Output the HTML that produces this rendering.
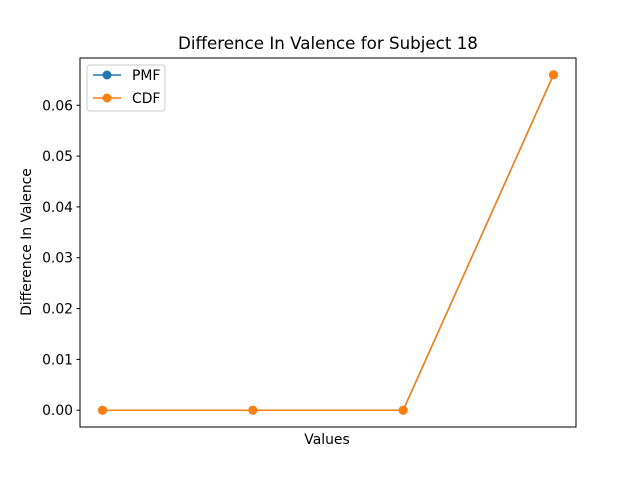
<!DOCTYPE html>
<html><head><meta charset="utf-8"><style>
body{margin:0;background:#fff;}
svg{font-family:"DejaVu Sans","Liberation Sans",sans-serif;}
</style></head><body>
<svg id="c" width="640" height="480" xmlns="http://www.w3.org/2000/svg">
<rect width="640" height="480" fill="#fff"/>
<text x="328" y="49" font-size="16.7" text-anchor="middle">Difference In Valence for Subject 18</text>
<text x="327" y="444" font-size="13.9" text-anchor="middle">Values</text>
<text transform="translate(31,242) rotate(-90)" font-size="13.9" text-anchor="middle">Difference In Valence</text>
<g id="ticks"></g>
<g id="series"></g>
<rect x="80" y="58" width="496" height="369" fill="none" stroke="#000" stroke-width="1"/>
<g>
<rect x="87" y="65" width="78" height="46" rx="3" fill="#fff" fill-opacity="0.8" stroke="#ccc"/>
<g>
<line x1="93" y1="75" x2="121" y2="75" stroke="#1f77b4" stroke-width="1.5"/>
<circle cx="107" cy="75" r="4.5" fill="#1f77b4"/>
<text x="132" y="80" font-size="13.9">PMF</text></g>
<g>
<line x1="93" y1="98" x2="121" y2="98" stroke="#ff7f0e" stroke-width="1.5"/>
<circle cx="107" cy="98" r="4.5" fill="#ff7f0e"/>
<text x="132" y="103" font-size="13.9">CDF</text></g>
</g>
</svg>
<script>
const categories = [0, 1, 2, 3];
const pmfValues = [0, 0, 0, 0.066];
const cdfValues = [0, 0, 0, 0.066];
const yTicks = [0, 0.01, 0.02, 0.03, 0.04, 0.05, 0.06];
const yTickLabels = ["0.00","0.01","0.02","0.03","0.04","0.05","0.06"];

const L=80,R=576,T=58,B=427;
const all=pmfValues.concat(cdfValues);
let ymin=Math.min(...all),ymax=Math.max(...all);
const yp=(ymax-ymin)*0.05||0.01; ymin-=yp; ymax+=yp;
const xmin=Math.min(...categories),xmax=Math.max(...categories);
const xp=(xmax-xmin)*0.05||0.5;
const x=v=>L+(v-(xmin-xp))/((xmax+xp)-(xmin-xp))*(R-L);
const y=v=>B-(v-ymin)/(ymax-ymin)*(B-T);
const NS="http://www.w3.org/2000/svg";
function mk(t,a,p){const e=document.createElementNS(NS,t);for(const k in a)e.setAttribute(k,a[k]);p.appendChild(e);return e;}
const tg=document.getElementById('ticks');
yTicks.forEach((v,i)=>{
  const g=mk('g',{},tg);
  
  
  mk('line',{x1:L-3.5,x2:L,y1:y(v),y2:y(v),stroke:'#000'},g);
  const t=mk('text',{x:L-7,y:y(v)+5,'font-size':13.9,'text-anchor':'end'},g);
  t.textContent=yTickLabels[i];
});
const sg=document.getElementById('series');
[[pmfValues,'#1f77b4','pmf'],[cdfValues,'#ff7f0e','cdf']].forEach(([vals,col,n])=>{
  const g=mk('g',{},sg);
  
  
  const p=mk('polyline',{points:vals.map((v,i)=>x(categories[i])+','+y(v)).join(' '),fill:'none',stroke:col,'stroke-width':1.5},g);
  
  
  vals.forEach((v,i)=>{
    const c=mk('circle',{cx:x(categories[i]),cy:y(v),r:4.5,fill:col},g);
    
    
  });
});
</script>
</body></html>
